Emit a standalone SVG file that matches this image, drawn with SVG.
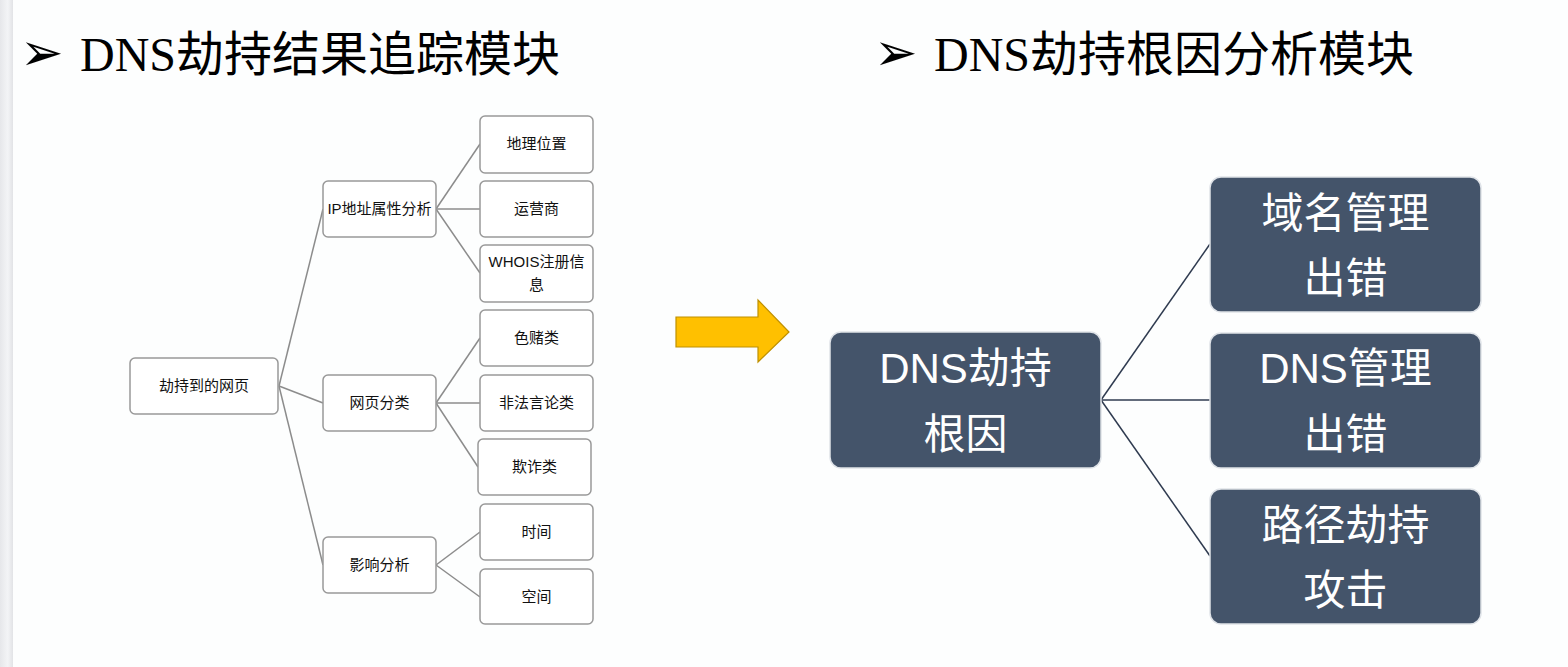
<svg xmlns="http://www.w3.org/2000/svg" width="1568" height="667" viewBox="0 0 1568 667">
<defs>
<linearGradient id="edge" x1="0" y1="0" x2="1" y2="0">
<stop offset="0" stop-color="#e6e7ea"/>
<stop offset="0.6" stop-color="#f3f4f6"/>
<stop offset="1" stop-color="#e2e3e6"/>
</linearGradient>
<style>
.title{font-family:"Liberation Serif","Noto Sans CJK SC",serif;font-size:48px;fill:#000}
.bullet{font-family:"DejaVu Sans",sans-serif;font-size:52px;fill:#000}
.ln{fill:#fff;stroke:#999;stroke-width:1.5}
.lt{font-family:"Liberation Sans","Noto Sans CJK SC",sans-serif;font-size:15px;fill:#111;text-anchor:middle}
.lc{stroke:#8c8c8c;stroke-width:1.5;fill:none}
.rn{fill:#44546a;stroke:#dfe3e8;stroke-width:1.5}
.rt{font-family:"Liberation Sans","Noto Sans CJK SC",sans-serif;font-size:42px;fill:#fff;text-anchor:middle}
.rc{stroke:#2f3b50;stroke-width:1.5;fill:none}
</style>
</defs>
<rect x="0" y="0" width="1568" height="667" fill="#fdfefe"/>
<rect x="0" y="0" width="13" height="667" fill="url(#edge)"/>

<g id="title-left">
<text class="bullet" x="20" y="70">➢</text>
<text class="title" x="80" y="71">DNS劫持结果追踪模块</text>
</g>
<g id="title-right">
<text class="bullet" x="874" y="70">➢</text>
<text class="title" x="934" y="71">DNS劫持根因分析模块</text>
</g>

<g id="connectors">
<path class="lc" d="M279,386 L323,209"/>
<path class="lc" d="M279,386 L323,403"/>
<path class="lc" d="M279,386 L323,565"/>
<path class="lc" d="M436,209 L480,144"/>
<path class="lc" d="M436,209 L480,209"/>
<path class="lc" d="M436,209 L480,273"/>
<path class="lc" d="M436,403 L480,338"/>
<path class="lc" d="M436,403 L480,403"/>
<path class="lc" d="M436,403 L478,467"/>
<path class="lc" d="M436,565 L480,532"/>
<path class="lc" d="M436,565 L480,597"/>
<path class="rc" d="M1101,400 L1210,244"/>
<path class="rc" d="M1101,400 L1210,400"/>
<path class="rc" d="M1101,400 L1210,556"/>
</g>

<g id="n-root"><rect class="ln" x="130" y="358" width="148" height="56" rx="5"/><text class="lt" x="204" y="391">劫持到的网页</text></g>
<g id="n-ip"><rect class="ln" x="323" y="181" width="113" height="56" rx="5"/><text class="lt" x="379.5" y="214">IP地址属性分析</text></g>
<g id="n-web"><rect class="ln" x="323" y="375" width="113" height="56" rx="5"/><text class="lt" x="379.5" y="408">网页分类</text></g>
<g id="n-impact"><rect class="ln" x="323" y="537" width="113" height="56" rx="5"/><text class="lt" x="379.5" y="570">影响分析</text></g>
<g id="n-geo"><rect class="ln" x="480" y="116" width="113" height="57" rx="5"/><text class="lt" x="536.5" y="149">地理位置</text></g>
<g id="n-isp"><rect class="ln" x="480" y="181" width="113" height="56" rx="5"/><text class="lt" x="536.5" y="214">运营商</text></g>
<g id="n-whois"><rect class="ln" x="480" y="245" width="113" height="57" rx="5"/><text class="lt" x="536.5" y="267">WHOIS注册信</text><text class="lt" x="536.5" y="290">息</text></g>
<g id="n-porn"><rect class="ln" x="480" y="310" width="113" height="56" rx="5"/><text class="lt" x="536.5" y="343">色赌类</text></g>
<g id="n-illegal"><rect class="ln" x="480" y="375" width="113" height="56" rx="5"/><text class="lt" x="536.5" y="408">非法言论类</text></g>
<g id="n-fraud"><rect class="ln" x="478" y="439" width="113" height="56" rx="5"/><text class="lt" x="534.5" y="472">欺诈类</text></g>
<g id="n-time"><rect class="ln" x="480" y="504" width="113" height="56" rx="5"/><text class="lt" x="536.5" y="537">时间</text></g>
<g id="n-space"><rect class="ln" x="480" y="569" width="113" height="55" rx="5"/><text class="lt" x="536.5" y="602">空间</text></g>

<g id="big-arrow">
<polygon points="676,317 758,317 758,300 789,332 758,362 758,347 676,347" fill="#ffc000" stroke="#bf9000" stroke-width="1.2"/>
</g>

<g id="r-root"><rect class="rn" x="830" y="332" width="271" height="136" rx="11"/><text class="rt" x="965.5" y="383">DNS劫持</text><text class="rt" x="965.5" y="449">根因</text></g>
<g id="r-domain"><rect class="rn" x="1210" y="177" width="271" height="135" rx="11"/><text class="rt" x="1345.5" y="228">域名管理</text><text class="rt" x="1345.5" y="293">出错</text></g>
<g id="r-dns"><rect class="rn" x="1210" y="333" width="271" height="135" rx="11"/><text class="rt" x="1345.5" y="383">DNS管理</text><text class="rt" x="1345.5" y="449">出错</text></g>
<g id="r-path"><rect class="rn" x="1210" y="489" width="271" height="135" rx="11"/><text class="rt" x="1345.5" y="540">路径劫持</text><text class="rt" x="1345.5" y="605">攻击</text></g>
</svg>
